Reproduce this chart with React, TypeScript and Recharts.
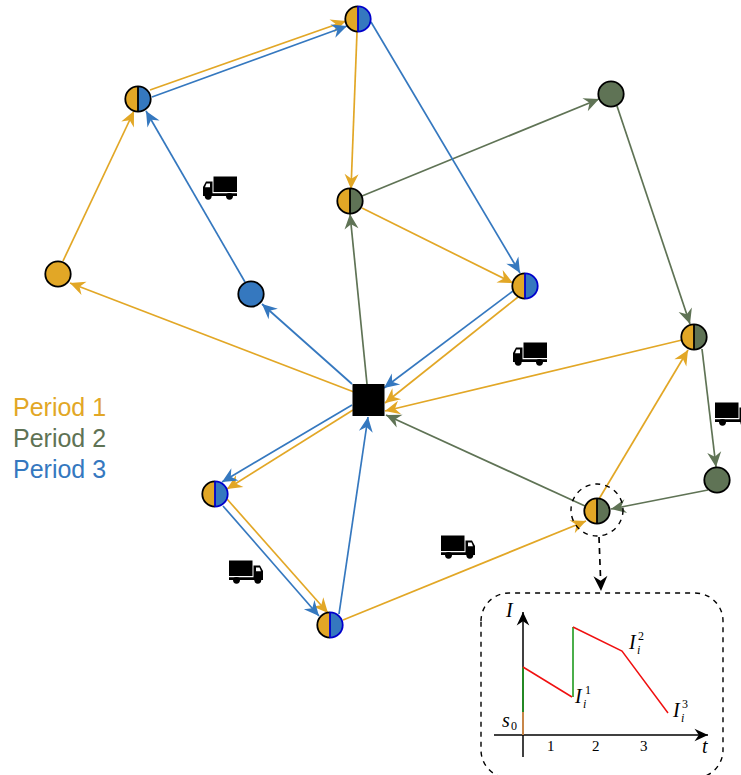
import { ScatterChart, Scatter, XAxis, YAxis, ReferenceArea } from 'recharts';

const WIDTH = 741;
const HEIGHT = 775;

const COLORS: Record<string, string> = {
  yellow: '#E2A726',
  green: '#5F7355',
  blue: '#3578BF',
  black: '#000000',
  red: '#F01010',
  lime: '#1E9A1E',
  orange: '#E0934A',
};
const RIM_BLUE = '#0000CC';

const periods = ['Period 1', 'Period 2', 'Period 3'];
const periodColors = ['yellow', 'green', 'blue'];
const legendPos = [
  { x: 13, y: 416 },
  { x: 13, y: 447 },
  { x: 13, y: 478 },
];

// [x1, y1, x2, y2]
const period1Edges = [
  [63, 261, 134, 111],
  [150, 90, 346, 21],
  [357, 32, 351, 189],
  [362, 208, 513, 283],
  [518, 297, 385, 403],
  [682, 340, 385, 411],
  [354, 392, 70, 283],
  [353, 410, 227, 489],
  [227, 499, 328, 613],
  [343, 620, 586, 521],
  [599, 499, 688, 350],
];
const period2Edges = [
  [367, 384, 350, 214],
  [362, 196, 599, 99],
  [617, 106, 690, 324],
  [702, 349, 716, 467],
  [708, 490, 611, 509],
  [585, 506, 386, 415],
];
const period3Edges = [
  [152, 97, 347, 26],
  [371, 22, 520, 273],
  [245, 282, 146, 111],
  [352, 384, 262, 304],
  [513, 291, 384, 388],
  [352, 405, 222, 482],
  [223, 506, 319, 616],
  [339, 614, 368, 417],
];
const zoomArrow = [[599, 537, 601, 591]];

const nodes = [
  { x: 358, y: 19, left: 'yellow', right: 'blue', rim: 'blue' },
  { x: 138, y: 99, left: 'yellow', right: 'blue', rim: 'black' },
  { x: 58, y: 274, left: 'yellow', right: 'yellow', rim: 'plain' },
  { x: 251, y: 294, left: 'blue', right: 'blue', rim: 'plain' },
  { x: 350, y: 201, left: 'yellow', right: 'green', rim: 'black' },
  { x: 611, y: 94, left: 'green', right: 'green', rim: 'plain' },
  { x: 525, y: 286, left: 'yellow', right: 'blue', rim: 'blue' },
  { x: 694, y: 337, left: 'yellow', right: 'green', rim: 'black' },
  { x: 717, y: 480, left: 'green', right: 'green', rim: 'plain' },
  { x: 597, y: 511, left: 'yellow', right: 'green', rim: 'black' },
  { x: 215, y: 494, left: 'yellow', right: 'blue', rim: 'blue' },
  { x: 330, y: 625, left: 'yellow', right: 'blue', rim: 'blue' },
];
const depot = [{ x: 368.5, y: 400 }];
const zoomRing = [{ x: 597, y: 510 }];

const trucks = [
  { x: 220, y: 188, dir: -1 },
  { x: 530, y: 354, dir: -1 },
  { x: 732, y: 414, dir: 1 },
  { x: 246, y: 572, dir: 1 },
  { x: 458, y: 547, dir: 1 },
];

// inset inventory plot
const insetAxisI = [
  { x: 523, y: 757 },
  { x: 523, y: 612 },
];
const insetAxisT = [
  { x: 494, y: 735 },
  { x: 708, y: 735 },
];
const inventoryRed1 = [
  { x: 523, y: 667 },
  { x: 572, y: 697 },
];
const inventoryRed2 = [
  { x: 573, y: 627 },
  { x: 622, y: 651 },
  { x: 668, y: 713 },
];
const inventoryGreen1 = [
  { x: 523, y: 712 },
  { x: 523, y: 667 },
];
const inventoryGreen2 = [
  { x: 573, y: 697 },
  { x: 573, y: 627 },
];
const inventoryOrange = [
  { x: 523, y: 735 },
  { x: 523, y: 712 },
];

const insetLabels = [
  { x: 506, y: 617, text: 'I', kind: 'math' },
  { x: 702, y: 753, text: 't', kind: 'math' },
  { x: 502, y: 727, text: 's', kind: 'math' },
  { x: 511, y: 730, text: '0', kind: 'sub' },
  { x: 547, y: 751, text: '1', kind: 'num' },
  { x: 592, y: 751, text: '2', kind: 'num' },
  { x: 640, y: 751, text: '3', kind: 'num' },
  { x: 575, y: 703, text: 'I', kind: 'math' },
  { x: 583, y: 708, text: 'i', kind: 'sub' },
  { x: 585, y: 694, text: '1', kind: 'sub' },
  { x: 629, y: 649, text: 'I', kind: 'math' },
  { x: 637, y: 654, text: 'i', kind: 'sub' },
  { x: 638, y: 640, text: '2', kind: 'sub' },
  { x: 673, y: 717, text: 'I', kind: 'math' },
  { x: 681, y: 722, text: 'i', kind: 'sub' },
  { x: 682, y: 708, text: '3', kind: 'sub' },
];

const toPoints = (e: number[]) => [
  { x: e[0], y: e[1] },
  { x: e[2], y: e[3] },
];

const hidden = () => <g />;

// notched arrow head on the last point of a line
function arrowShape(pts: { x: number; y: number }[], color: string, size = 1) {
  const a = pts[pts.length - 2];
  const b = pts[pts.length - 1];
  const angle = (Math.atan2(b.y - a.y, b.x - a.x) * 180) / Math.PI;
  return (p: any) => {
    if (p.payload.x !== b.x || p.payload.y !== b.y) return <g />;
    const l = 15 * size;
    const w = 7 * size;
    return (
      <path
        d={`M0,0 L${-l},${-w} L${-l * 0.68},0 L${-l},${w} Z`}
        fill={color}
        transform={`translate(${p.cx},${p.cy}) rotate(${angle})`}
      />
    );
  };
}

function NodeShape(p: any) {
  const { cx, cy, payload } = p;
  const r = 12.7;
  const { left, right, rim } = payload;
  const half = (side: number) => `M${cx},${cy - r} A${r},${r} 0 0 ${side} ${cx},${cy + r} Z`;
  const rightRim = rim === 'blue' ? RIM_BLUE : '#000';
  return (
    <g strokeWidth={1.8}>
      <circle cx={cx} cy={cy} r={r} fill={COLORS[left]} />
      <path d={half(1)} fill={COLORS[right]} />
      <path d={`M${cx},${cy - r} A${r},${r} 0 0 0 ${cx},${cy + r}`} fill="none" stroke="#000" />
      <path d={`M${cx},${cy - r} A${r},${r} 0 0 1 ${cx},${cy + r}`} fill="none" stroke={rightRim} />
      {rim !== 'plain' && <line x1={cx} y1={cy - r} x2={cx} y2={cy + r} stroke={rightRim} />}
    </g>
  );
}

function DepotShape(p: any) {
  return <rect x={p.cx - 16} y={p.cy - 16} width={32} height={32} fill="#000" />;
}

function RingShape(p: any) {
  return <circle cx={p.cx} cy={p.cy} r={26} fill="none" stroke="#000" strokeWidth={1.4} strokeDasharray="5 5" />;
}

function TruckShape(p: any) {
  const { cx, cy, payload } = p;
  return (
    <g transform={`translate(${cx},${cy}) scale(${payload.dir},1) translate(-17,-11.5)`}>
      <rect x={0} y={0} width={23.5} height={15.5} fill="#000" />
      <path d="M24.5,5 H31 L34,10.5 V19.5 H0 V16.7 H24.5 Z" fill="#000" />
      <path d="M27,7 H30.5 L32,10.8 H27 Z" fill="#fff" />
      <circle cx={7.5} cy={19.8} r={3.4} fill="#000" />
      <circle cx={28.8} cy={19.8} r={3.4} fill="#000" />
    </g>
  );
}

function LegendText(p: any) {
  const i = p.payload.i;
  return (
    <text x={p.cx} y={p.cy} fontFamily="'Liberation Sans', sans-serif" fontSize={25} fill={COLORS[periodColors[i]]}>
      {periods[i]}
    </text>
  );
}

function InsetText(p: any) {
  const { text, kind } = p.payload;
  const math = kind === 'math';
  const sub = kind === 'sub';
  const italic = math || text === 'i';
  return (
    <text
      x={p.cx}
      y={p.cy}
      fontFamily="'Liberation Serif', serif"
      fontStyle={italic ? 'italic' : 'normal'}
      fontSize={math ? 20 : sub ? 12 : 15}
      fill="#000"
    >
      {text}
    </text>
  );
}

function edgeSeries(edges: number[][], color: string, prefix: string) {
  return edges.map((e, i) => {
    const pts = toPoints(e);
    return (
      <Scatter
        key={`${prefix}-${i}`}
        data={pts}
        fill={color}
        line={{ stroke: color, strokeWidth: 1.7 }}
        shape={arrowShape(pts, color)}
        isAnimationActive={false}
      />
    );
  });
}

function inkLine(key: string, pts: { x: number; y: number }[], color: string, width: number, head: boolean) {
  return (
    <Scatter
      key={key}
      data={pts}
      fill={color}
      line={{ stroke: color, strokeWidth: width }}
      shape={head ? arrowShape(pts, color, 0.9) : hidden}
      isAnimationActive={false}
    />
  );
}

export default function App() {
  return (
    <div style={{ position: 'absolute', left: 0, top: 0, width: WIDTH, height: HEIGHT, background: '#fff' }}>
      <ScatterChart width={WIDTH} height={HEIGHT} margin={{ top: 0, right: 0, bottom: 0, left: 0 }}>
        <XAxis type="number" dataKey="x" domain={[0, WIDTH]} hide />
        <YAxis type="number" dataKey="y" domain={[0, HEIGHT]} reversed hide />
        <ReferenceArea
          x1={481}
          x2={723}
          y1={593}
          y2={778}
          ifOverflow="visible"
          radius={28}
          fill="none"
          stroke="#000"
          strokeWidth={1.4}
          strokeDasharray="5 5"
        />
        {edgeSeries(period1Edges, COLORS.yellow, 'p1')}
        {edgeSeries(period2Edges, COLORS.green, 'p2')}
        {edgeSeries(period3Edges, COLORS.blue, 'p3')}
        <Scatter
          data={toPoints(zoomArrow[0])}
          fill="#000"
          line={{ stroke: '#000', strokeWidth: 1.7, strokeDasharray: '6 5' }}
          shape={arrowShape(toPoints(zoomArrow[0]), '#000')}
          isAnimationActive={false}
        />
        <Scatter data={depot} shape={DepotShape} isAnimationActive={false} />
        <Scatter data={nodes} shape={NodeShape} isAnimationActive={false} />
        <Scatter data={zoomRing} shape={RingShape} isAnimationActive={false} />
        <Scatter data={trucks} shape={TruckShape} isAnimationActive={false} />
        <Scatter data={legendPos.map((d, i) => ({ ...d, i }))} shape={LegendText} isAnimationActive={false} />
        {inkLine('axis-i', insetAxisI, COLORS.black, 1.5, true)}
        {inkLine('axis-t', insetAxisT, COLORS.black, 1.5, true)}
        {inkLine('orange', inventoryOrange, COLORS.orange, 1.7, false)}
        {inkLine('green-1', inventoryGreen1, COLORS.lime, 1.6, false)}
        {inkLine('green-2', inventoryGreen2, COLORS.lime, 1.6, false)}
        {inkLine('red-1', inventoryRed1, COLORS.red, 1.5, false)}
        {inkLine('red-2', inventoryRed2, COLORS.red, 1.5, false)}
        <Scatter data={insetLabels} shape={InsetText} isAnimationActive={false} />
      </ScatterChart>
    </div>
  );
}
